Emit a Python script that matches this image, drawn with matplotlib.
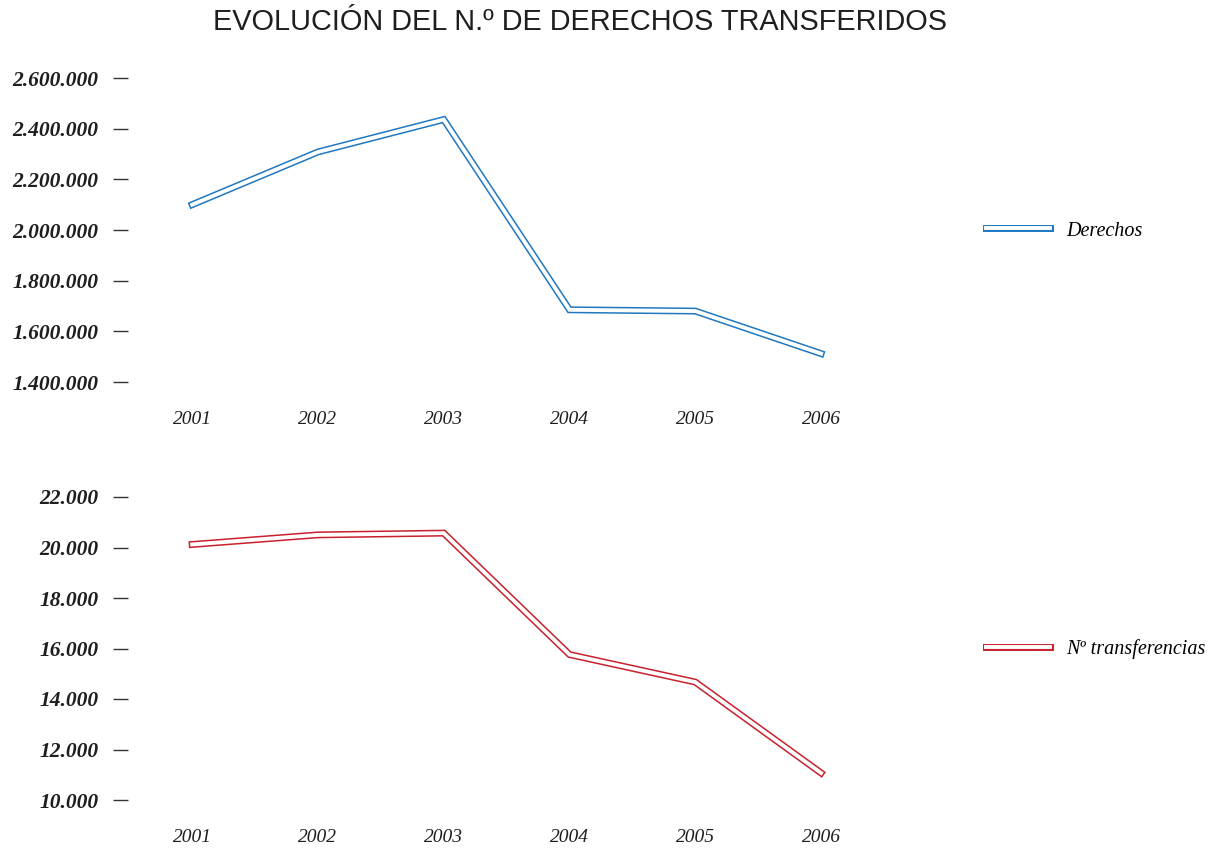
import matplotlib
matplotlib.use("Agg")
import matplotlib.pyplot as plt
import matplotlib.patheffects as pe
from matplotlib.ticker import FuncFormatter

years = [2001, 2002, 2003, 2004, 2005, 2006]
derechos = [2100000, 2308000, 2436000, 1685000, 1680000, 1512000]
transferencias = [20120, 20500, 20570, 15760, 14670, 11070]

derechos_ticks = [1400000, 1600000, 1800000, 2000000, 2200000, 2400000, 2600000]
transf_ticks = [10000, 12000, 14000, 16000, 18000, 20000, 22000]

blue = "#1f78c1"
red = "#c8202c"
ink = "#1e1e1e"
W, H = 1226, 851


def miles(v, pos=None):
    return f"{int(v):,}".replace(",", ".")


def double_line(ax, x, y, color, label):
    # white core over a coloured stroke gives the hollow "tube" line
    ax.plot(x, y, color="white", lw=2.8, solid_capstyle="projecting",
            solid_joinstyle="miter", label=label,
            path_effects=[pe.Stroke(linewidth=5.0, foreground=color,
                                    capstyle="projecting", joinstyle="miter"),
                          pe.Normal()])


def style(ax, ticks):
    ax.set_xlim(2000.49, 2006.5)
    ax.set_ylim(ticks[0], ticks[-1])
    for s in ax.spines.values():
        s.set_visible(False)
    ax.set_yticks(ticks)
    ax.yaxis.set_major_formatter(FuncFormatter(miles))
    ax.set_xticks(years)
    ax.set_xticklabels([str(y) for y in years])
    ax.tick_params(axis="y", length=10.8, width=1.0, color="#333333", pad=10.5)
    ax.tick_params(axis="x", length=0, pad=21)
    for t in ax.get_yticklabels():
        t.set_fontfamily("Liberation Serif")
        t.set_fontstyle("italic")
        t.set_fontweight("bold")
        t.set_fontsize(15.5)
        t.set_color(ink)
    for t in ax.get_xticklabels():
        t.set_fontfamily("Liberation Serif")
        t.set_fontstyle("italic")
        t.set_fontsize(14)
        t.set_color(ink)


fig = plt.figure(figsize=(W / 100, H / 100), dpi=100)

ax1 = fig.add_axes([128 / W, 1 - 382 / H, (884 - 128) / W, (382 - 78) / H])
ax2 = fig.add_axes([128 / W, 1 - 800 / H, (884 - 128) / W, (800 - 497) / H])

double_line(ax1, years, derechos, blue, "Derechos")
double_line(ax2, years, transferencias, red, "Nº transferencias")
for a in (ax1, ax2):
    for ln in a.lines:
        ln.set_clip_on(False)

style(ax1, derechos_ticks)
style(ax2, transf_ticks)

for a, yc in ((ax1, 231), (ax2, 649)):
    a.legend(loc="center left", bbox_to_anchor=(986 / W, 1 - yc / H),
             bbox_transform=fig.transFigure, frameon=False, borderpad=0,
             borderaxespad=0, handlelength=3.2, handletextpad=0.8,
             prop={"family": "Liberation Serif", "style": "italic", "size": 14.5})

fig.text(580 / W, 1 - 22 / H, "EVOLUCIÓN DEL N.º DE DERECHOS TRANSFERIDOS",
         ha="center", va="center", fontsize=20.8, color=ink,
         family="Liberation Sans")

fig.savefig("out.png", dpi=100, facecolor="white")
